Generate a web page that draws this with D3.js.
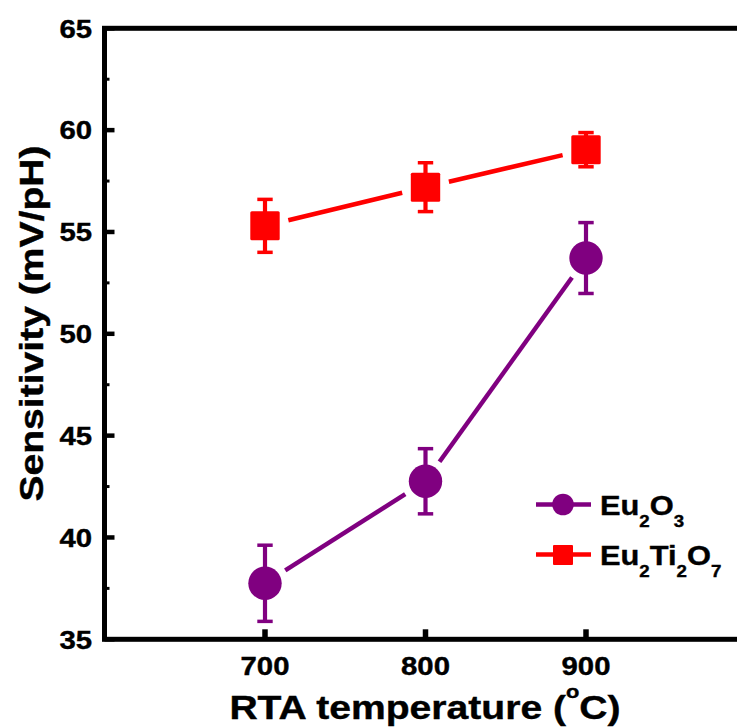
<!DOCTYPE html>
<html>
<head>
<meta charset="utf-8">
<script src="https://cdn.jsdelivr.net/npm/d3@7"></script>
<style>
  html, body { margin: 0; padding: 0; background: #fff; }
  svg { display: block; }
  text { font-family: Arial, "Liberation Sans", sans-serif; font-weight: bold; fill: #000; stroke: #000; stroke-width: 0.4px; }
</style>
</head>
<body>
<svg id="chart" width="737" height="727"></svg>
<script>
// RTA temperatures (°C)
const temperatures = [700, 800, 900];
// pH sensitivity (mV/pH) and error bar half-widths
const eu2o3Values = [37.75, 42.76, 53.72];
const eu2o3Errors = [1.87, 1.6, 1.74];
const eu2ti2o7Values = [55.3, 57.2, 59.04];
const eu2ti2o7Errors = [1.3, 1.2, 0.84];
// axis ticks
const xTicks = [700, 800, 900];
const yTicks = [35, 40, 45, 50, 55, 60, 65];
const yMinorTicks = [37.5, 42.5, 47.5, 52.5, 57.5, 62.5];

const PURPLE = "#800080";
const RED = "#ff0000";
const STRETCH = 1.15;

const svg = d3.select("#chart");
const x = d3.scaleLinear().domain([600, 1000]).range([104.5, 746.5]);
const y = d3.scaleLinear().domain([35, 65]).range([639.3, 28.3]);

// ---- frame ----
const frame = svg.append("g").attr("stroke", "#000").attr("stroke-width", 5).attr("fill", "none");
frame.append("rect")
  .attr("x", x.range()[0]).attr("y", y.range()[1])
  .attr("width", x.range()[1] - x.range()[0])
  .attr("height", y.range()[0] - y.range()[1]);

// ---- ticks (pointing inward) ----
const ticks = svg.append("g").attr("stroke", "#000");
ticks.selectAll(".ytick").data(yTicks).join("line")
  .attr("x1", x.range()[0]).attr("x2", x.range()[0] + 10)
  .attr("y1", d => y(d)).attr("y2", d => y(d))
  .attr("stroke-width", 4.5);
ticks.selectAll(".yminor").data(yMinorTicks).join("line")
  .attr("x1", x.range()[0]).attr("x2", x.range()[0] + 5)
  .attr("y1", d => y(d)).attr("y2", d => y(d))
  .attr("stroke-width", 3);
ticks.selectAll(".xtick").data(xTicks).join("line")
  .attr("x1", d => x(d)).attr("x2", d => x(d))
  .attr("y1", y.range()[0]).attr("y2", y.range()[0] - 10)
  .attr("stroke-width", 5.5);

// ---- tick labels ----
function stretchedText(g, px, py, str, size, anchor, rotate) {
  return g.append("text")
    .attr("transform", `translate(${px},${py})` + (rotate ? ` rotate(${rotate})` : "") + ` scale(${STRETCH},1)`)
    .attr("text-anchor", anchor)
    .attr("font-size", size)
    .text(str);
}
const labels = svg.append("g");
yTicks.forEach(v => stretchedText(labels, 92, y(v) + 9.2, d3.format("d")(v), 25.5, "end"));
xTicks.forEach(v => stretchedText(labels, x(v), 675, d3.format("d")(v), 25.5, "middle"));

// ---- axis titles ----
stretchedText(labels, 43, 323.5, "Sensitivity (mV/pH)", 34, "middle", -90);
const xt = labels.append("text")
  .attr("transform", `translate(425,719) scale(${STRETCH},1)`)
  .attr("text-anchor", "middle")
  .attr("font-size", 34);
xt.append("tspan").text("RTA temperature (");
xt.append("tspan").attr("font-size", 19).attr("dy", -21.5).text("o");
xt.append("tspan").attr("dy", 21.5).text("C)");

// ---- series ----
const series = [
  { name: "Eu2O3", values: eu2o3Values, errors: eu2o3Errors, color: PURPLE, shape: "circle" },
  { name: "Eu2Ti2O7", values: eu2ti2o7Values, errors: eu2ti2o7Errors, color: RED, shape: "square" }
];
const GAP = 24; // distance from marker centre where connecting lines stop

series.forEach(s => {
  const pts = temperatures.map((t, i) => ({ t, v: s.values[i], e: s.errors[i], px: x(t), py: y(s.values[i]) }));
  const g = svg.append("g");

  // connecting segments, trimmed around each marker
  const segs = d3.pairs(pts).map(([a, b]) => {
    const dx = b.px - a.px, dy = b.py - a.py, len = Math.hypot(dx, dy);
    const ux = dx / len, uy = dy / len;
    return { x1: a.px + ux * GAP, y1: a.py + uy * GAP, x2: b.px - ux * GAP, y2: b.py - uy * GAP };
  });
  g.selectAll(".seg").data(segs).join("line")
    .attr("x1", d => d.x1).attr("y1", d => d.y1).attr("x2", d => d.x2).attr("y2", d => d.y2)
    .attr("stroke", s.color).attr("stroke-width", 4.5);

  // error bars
  const eb = g.selectAll(".eb").data(pts).join("g").attr("stroke", s.color);
  eb.append("line")
    .attr("x1", d => d.px).attr("x2", d => d.px)
    .attr("y1", d => y(d.v + d.e)).attr("y2", d => y(d.v - d.e))
    .attr("stroke-width", 4.2);
  [1, -1].forEach(sign => {
    eb.append("line")
      .attr("x1", d => d.px - 7.7).attr("x2", d => d.px + 7.7)
      .attr("y1", d => y(d.v + sign * d.e)).attr("y2", d => y(d.v + sign * d.e))
      .attr("stroke-width", 3.5);
  });

  // markers
  if (s.shape === "circle") {
    g.selectAll(".mk").data(pts).join("circle")
      .attr("cx", d => d.px).attr("cy", d => d.py).attr("r", 16.7)
      .attr("fill", s.color);
  } else {
    g.selectAll(".mk").data(pts).join("rect")
      .attr("x", d => d.px - 14.7).attr("y", d => d.py - 14.5)
      .attr("width", 29.4).attr("height", 29).attr("rx", 1.5)
      .attr("fill", s.color);
  }
});

// ---- legend ----
const legend = svg.append("g");
const legendRows = [
  { color: PURPLE, shape: "circle", parts: [["Eu", 0], ["2", 1], ["O", 0], ["3", 1]], ly: 504.5, ty: 515 },
  { color: RED, shape: "square", parts: [["Eu", 0], ["2", 1], ["Ti", 0], ["2", 1], ["O", 0], ["7", 1]], ly: 554.5, ty: 565 }
];
legendRows.forEach(r => {
  legend.append("line")
    .attr("x1", 536).attr("x2", 591).attr("y1", r.ly).attr("y2", r.ly)
    .attr("stroke", r.color).attr("stroke-width", 4.3);
  if (r.shape === "circle") {
    legend.append("circle").attr("cx", 563).attr("cy", r.ly).attr("r", 10.8).attr("fill", r.color);
  } else {
    legend.append("rect").attr("x", 553).attr("y", r.ly - 9.5).attr("width", 20).attr("height", 20)
      .attr("rx", 1).attr("fill", r.color);
  }
  const t = legend.append("text")
    .attr("transform", `translate(600,${r.ty}) scale(1.1,1)`)
    .attr("font-size", 28);
  let sub = false;
  r.parts.forEach(([str, isSub]) => {
    const ts = t.append("tspan").text(str);
    if (isSub && !sub) { ts.attr("font-size", 17).attr("dy", 12); sub = true; }
    else if (!isSub && sub) { ts.attr("dy", -12); sub = false; }
    else if (isSub) { ts.attr("font-size", 17); }
  });
});
</script>
</body>
</html>
